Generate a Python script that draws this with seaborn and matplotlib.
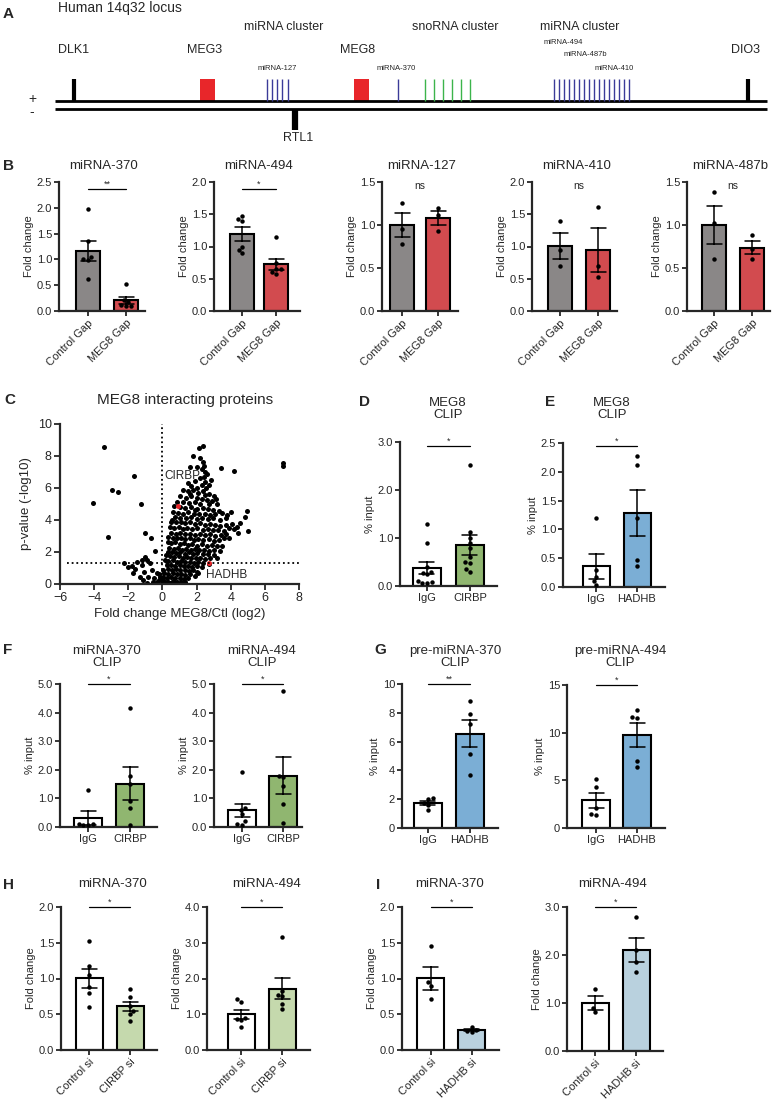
import numpy as np
import pandas as pd
import matplotlib
matplotlib.use("Agg")
import matplotlib.pyplot as plt
import seaborn as sns

W, H = 780, 1109

# Panel A - locus schematic, x positions of the features
dlk1_dio3_x = [74, 748]
meg_boxes_x = [207, 361]
mir127_x = [267, 272, 277, 282, 288]
mir370_x = [398]
snorna_x = [425, 434, 443, 452, 461, 470]
mir_cluster2_x = [554, 559, 564, 569, 574, 579, 584, 589, 594, 599, 604, 609, 614, 619, 624, 629]
rtl1_x = [295]

# Panel B - miRNA levels after MEG8 gapmer
b_groups = ["Control Gap", "MEG8 Gap"]
mir370_ctrl = [1.97, 1.35, 1.05, 0.99, 1.00, 0.62]
mir370_meg8 = [0.52, 0.22, 0.12, 0.10, 0.10, 0.18]
mir494_ctrl = [1.47, 1.42, 1.40, 1.00, 0.95, 0.90]
mir494_meg8 = [1.14, 0.75, 0.65, 0.60, 0.57, 0.65]
mir127_ctrl = [1.26, 0.95, 0.78]
mir127_meg8 = [1.20, 1.12, 0.93]
mir410_ctrl = [1.39, 0.94, 0.69]
mir410_meg8 = [1.61, 0.70, 0.52]
mir487b_ctrl = [1.38, 1.02, 0.60]
mir487b_meg8 = [0.88, 0.72, 0.61]

# Panel C - volcano plot (log2 fold change, -log10 p)
volcano_fc = [
    1.78, 2.17, 2.40, 2.20, 1.62, 2.35, 2.45, 2.30, 2.50, 2.00,
    2.60, 2.45, 2.20, 1.90, 2.50, 2.70, 2.30, 1.70, 2.00, 2.55, 1.50, 2.85,
    1.20, 1.50, 1.80, 2.10, 2.40, 2.70, 3.00, 1.00, 1.40, 1.70, 2.00, 2.30,
    2.60, 2.90, 3.15, 0.85, 1.20, 1.55, 1.90, 2.20, 2.75, 3.20, 1.60, 2.50,
    0.70, 1.05, 1.35, 1.70, 2.00, 2.35, 2.65, 2.95, 3.30, 0.60, 0.90,
    1.20, 1.50, 1.85, 2.15, 2.50, 2.80, 3.10, 3.50, 0.75, 1.05, 1.40,
    1.70, 2.00, 2.30, 2.65, 2.95, 3.35, 3.70, 4.00, 0.55, 1.90, 3.80,
    0.50, 0.80, 1.10, 1.35, 1.60, 1.90, 2.20, 2.50, 2.80, 3.10,
    3.40, 3.75, 4.05, 0.45, 0.70, 0.95, 1.20, 1.45, 1.75, 2.05,
    2.35, 2.65, 2.95, 3.25, 3.60, 3.90, 0.50, 0.80, 1.05, 1.30,
    1.60, 1.90, 2.20, 2.50, 2.80, 3.10, 3.45, 3.75, 4.40, 4.20,
    0.35, 0.60, 0.85, 1.10, 1.35, 1.60, 1.85, 2.10, 2.40, 2.70,
    3.00, 3.30, 3.60, 3.90, 0.30, 0.50, 0.75, 1.00, 1.25, 1.50,
    1.75, 2.00, 2.30, 2.60, 2.90, 3.20, 3.50, 0.40, 0.65, 0.90,
    1.15, 1.40, 1.65, 1.90, 2.15, 2.45, 2.75, 3.05, 3.35, 0.30,
    0.55, 0.80, 1.05, 1.30, 1.55, 1.80, 2.05, 2.35, 2.65, 3.00,
    0.20, 0.45, 0.70, 0.95, 1.20, 1.45, 1.70, 1.95, 2.20, 2.50, 2.80, 3.20,
    0.15, 0.35, 0.60, 0.85, 1.10, 1.35, 1.60, 1.85, 2.10, 2.40, 2.75,
    0.25, 0.50, 0.75, 1.00, 1.25, 1.50, 1.75, 2.00, 2.30, 2.10,
    -1.80, -1.60, -1.50, -1.20, -1.00, -0.92, -1.10, -0.72, -0.62, -1.31, -1.70,
    -2.00, -2.24, -0.33, -0.49, -0.23, -0.82, -0.53, -0.14, -1.11, -0.92, -1.20,
    0.05, 0.30, 0.55, 0.80, 1.05, 1.30, 1.55, 1.80, 2.05, 0.10, 0.35, 0.60,
    0.85, 1.10, 1.35, 1.60, 1.90, 0.05, 0.25, 0.50, 0.75, 1.00, 1.25, 1.50,
    0.10, 0.35, 0.60, 0.85, 1.10, 0.00, 0.20, 0.45, -0.10, -0.30, -0.20, 0.70, 1.30,
    -3.40, -4.08, -3.16, -2.97, -2.58, -1.66, -1.27, -1.01, -0.68, -0.43,
    7.04, 7.04, 3.41, 4.21, 4.94, 4.84, 5.03, 4.35, 4.55,
]
volcano_logp = [
    8.02, 8.50, 8.60, 7.87, 7.29, 7.60, 7.40, 7.20, 7.00, 7.30,
    6.90, 6.70, 6.60, 6.45, 6.40, 6.20, 6.20, 6.10, 6.00, 6.00, 6.30, 6.50,
    5.90, 5.80, 5.85, 5.70, 5.80, 5.60, 5.50, 5.50, 5.40, 5.50, 5.40, 5.30,
    5.25, 5.20, 5.30, 5.10, 5.10, 5.05, 5.10, 5.00, 5.00, 5.00, 5.60, 5.55,
    4.90, 4.80, 4.75, 4.80, 4.70, 4.75, 4.70, 4.60, 4.55, 4.50, 4.45,
    4.40, 4.50, 4.40, 4.35, 4.40, 4.30, 4.35, 4.45, 4.20, 4.15, 4.10,
    4.20, 4.05, 4.10, 4.05, 4.10, 4.00, 4.10, 4.50, 4.00, 4.60, 4.30,
    3.90, 3.85, 3.90, 3.80, 3.85, 3.75, 3.80, 3.70, 3.75, 3.70,
    3.65, 3.70, 3.75, 3.55, 3.50, 3.55, 3.45, 3.50, 3.45, 3.50,
    3.40, 3.45, 3.35, 3.40, 3.30, 3.50, 3.20, 3.15, 3.20, 3.10,
    3.15, 3.05, 3.15, 3.05, 3.10, 3.00, 3.05, 3.15, 3.20, 3.45,
    2.95, 2.90, 2.85, 2.90, 2.80, 2.85, 2.75, 2.80, 2.75, 2.80,
    2.70, 2.75, 2.85, 2.90, 2.60, 2.55, 2.60, 2.50, 2.55, 2.45,
    2.50, 2.40, 2.50, 2.40, 2.45, 2.35, 2.40, 2.25, 2.20, 2.25,
    2.15, 2.20, 2.10, 2.20, 2.10, 2.15, 2.05, 2.10, 2.05, 2.00,
    2.00, 1.95, 2.00, 1.90, 2.00, 1.90, 1.95, 1.85, 1.90, 1.80,
    1.80, 1.75, 1.70, 1.75, 1.65, 1.70, 1.60, 1.65, 1.60, 1.55, 1.60, 1.65,
    1.50, 1.45, 1.50, 1.40, 1.45, 1.35, 1.40, 1.30, 1.35, 1.30, 1.25,
    1.20, 1.20, 1.15, 1.20, 1.10, 1.15, 1.05, 1.10, 1.05, 0.70,
    1.13, 0.92, 1.40, 1.19, 1.71, 1.50, 0.77, 1.29, 0.88, 0.46, 0.67,
    1.08, 1.29, 0.67, 0.35, 0.25, 0.46, 0.15, 0.46, 0.25, 0.04, 1.50,
    0.90, 0.95, 0.90, 0.95, 0.85, 0.90, 0.80, 0.85, 0.75, 0.70, 0.65, 0.70,
    0.60, 0.65, 0.55, 0.60, 0.50, 0.45, 0.40, 0.45, 0.35, 0.40, 0.30, 0.35,
    0.20, 0.15, 0.20, 0.10, 0.15, 0.05, 0.05, 0.05, 0.30, 0.10, 0.60, 0.05, 0.10,
    8.56, 5.09, 2.92, 5.87, 5.76, 6.76, 5.01, 3.17, 2.90, 2.09,
    7.56, 7.35, 7.27, 7.08, 4.59, 4.18, 3.32, 3.59, 3.80,
]
hit_names = ["CIRBP", "HADHB"]
hit_fc = [0.94, 2.75]
hit_logp = [4.89, 1.29]

# Panel D/E - MEG8 CLIP
d_groups = ["IgG", "CIRBP"]
d_igg = [1.29, 0.90, 0.40, 0.28, 0.24, 0.10, 0.08, 0.06, 0.06, 0.30]
d_cirbp = [2.52, 1.12, 1.00, 0.90, 0.80, 0.50, 0.60, 0.48, 0.35, 0.30]
e_groups = ["IgG", "HADHB"]
e_igg = [1.20, 0.30, 0.17, 0.10, 0.03]
e_hadhb = [2.28, 2.12, 1.20, 0.47, 0.37]

# Panel F - miRNA CLIP with CIRBP
f370_igg = [1.28, 0.10, 0.10, 0.06, 0.06]
f370_cirbp = [4.15, 1.80, 1.50, 0.90, 0.65, 0.08]
f494_igg = [1.93, 0.68, 0.60, 0.45, 0.20, 0.08, 0.10]
f494_cirbp = [4.75, 1.80, 1.75, 1.45, 0.80, 0.15]

# Panel G - pre-miRNA CLIP with HADHB
g370_igg = [2.05, 2.00, 1.75, 1.60, 1.25]
g370_hadhb = [8.85, 7.90, 7.20, 5.15, 3.65]
g494_igg = [5.10, 4.30, 2.15, 1.50, 1.40]
g494_hadhb = [12.40, 11.60, 11.50, 6.98, 6.45]

# Panel H/I - knockdown
h_groups = ["Control si", "CIRBP si"]
h370_ctrl = [1.52, 1.18, 1.05, 0.88, 0.80, 0.60]
h370_si = [0.85, 0.74, 0.62, 0.55, 0.50, 0.40]
h494_ctrl = [1.42, 1.35, 0.90, 0.87, 0.83, 0.65]
h494_si = [3.15, 1.65, 1.55, 1.50, 1.30, 1.15]
i_groups = ["Control si", "HADHB si"]
i370_ctrl = [1.45, 0.95, 0.90, 0.71]
i370_si = [0.32, 0.28, 0.26, 0.25]
i494_ctrl = [1.29, 0.90, 0.82]
i494_si = [2.80, 2.10, 1.85, 1.65]

GRAY, RED = "#8b8786", "#e8353a"
GREEN, LGREEN = "#8fc264", "#c6e0a6"
BLUE, LBLUE = "#6cb0e4", "#b3d3e4"


def px_axes(fig, left, top, right, bottom):
    return fig.add_axes([left / W, 1 - bottom / H, (right - left) / W, (bottom - top) / H])


def ftext(fig, x, y, s, **kw):
    kw.setdefault("ha", "center")
    kw.setdefault("va", "center")
    fig.text(x / W, 1 - y / H, s, **kw)


def bar_panel(fig, geom, groups, a, b, colors, yticks, fmt, sig, sig_y,
              ylabel, rotate, bar_px=27):
    spine, b1, b2, end, top, bottom = geom
    ppu = b2 - b1
    ax = px_axes(fig, spine, top, end, bottom)
    df = pd.DataFrame({"group": [groups[0]] * len(a) + [groups[1]] * len(b),
                       "value": list(a) + list(b)})
    sns.barplot(data=df, x="group", y="value", hue="group", order=groups,
                hue_order=groups, palette=dict(zip(groups, colors)), legend=False,
                errorbar="se", capsize=15 / ppu, width=bar_px / ppu,
                edgecolor="black", linewidth=1.5,
                err_kws={"color": "black", "linewidth": 1.1}, ax=ax)
    sns.swarmplot(data=df, x="group", y="value", order=groups, color="black",
                  size=3.2, ax=ax)
    ax.set_xlim(-(b1 - spine) / ppu, 1 + (end - b2) / ppu)
    ax.set_ylim(0, yticks[-1])
    ax.set_yticks(yticks)
    ax.set_yticklabels([fmt.format(t) for t in yticks])
    ax.set_xlabel("")
    ax.set_ylabel(ylabel, fontsize=8, labelpad=2)
    ax.set_xticks([0, 1])
    if rotate:
        ax.set_xticklabels(groups, rotation=45, ha="right", rotation_mode="anchor",
                           fontsize=7.5)
    else:
        ax.set_xticklabels(groups, fontsize=8.5)
    sns.despine(ax=ax)
    for s in ["left", "bottom"]:
        ax.spines[s].set_linewidth(1.6)
    ax.tick_params(direction="out", length=3.5, width=1.3, labelsize=8, pad=1.5)
    if sig == "ns":
        ax.text(0.5, sig_y, "ns", ha="center", va="center", fontsize=7.5)
    else:
        ax.plot([0, 1], [sig_y, sig_y], color="black", lw=0.9, clip_on=False)
        ax.text(0.5, sig_y, sig, ha="center", va="bottom", fontsize=6.5)
    return ax


sns.set_style("ticks")
plt.rcParams["font.family"] = ["Liberation Sans", "DejaVu Sans"]
fig = plt.figure(figsize=(W / 100, H / 100), dpi=100)

# ---------------- Panel A ----------------
axA = px_axes(fig, 0, 0, 780, 155)
axA.set_xlim(0, 780)
axA.set_ylim(155, 0)
axA.axis("off")
axA.hlines([101, 108.5], 55, 767, color="black", lw=2)
axA.vlines(dlk1_dio3_x, 79, 101, color="black", lw=3)
axA.bar(meg_boxes_x, 22, bottom=79, width=15, color="#e8262a", lw=0)
axA.vlines(mir127_x + mir370_x + mir_cluster2_x, 79, 101, color="#3b3b98", lw=1)
axA.vlines(snorna_x, 79, 101, color="#3cb44b", lw=1)
axA.vlines(rtl1_x, 108.5, 130, color="black", lw=4.5)

ftext(fig, 8, 14, "A", fontsize=11, fontweight="bold")
ftext(fig, 58, 8, "Human 14q32 locus", fontsize=10, ha="left")
for x, s in [(284, "miRNA cluster"), (455, "snoRNA cluster"), (580, "miRNA cluster")]:
    ftext(fig, x, 27, s, fontsize=9)
for x, s in [(74, "DLK1"), (205, "MEG3"), (358, "MEG8"), (746, "DIO3")]:
    ftext(fig, x, 50, s, fontsize=9)
for x, y, s in [(277, 68, "miRNA-127"), (396, 69, "miRNA-370"), (563, 43, "miRNA-494"),
                (585, 54, "miRNA-487b"), (614, 68, "miRNA-410")]:
    ftext(fig, x, y, s, fontsize=5.5)
ftext(fig, 298, 138, "RTL1", fontsize=9)
ftext(fig, 32, 99, "+", fontsize=10)
ftext(fig, 32, 112, "-", fontsize=10)

# ---------------- Panel B ----------------
ftext(fig, 8, 166, "B", fontsize=11, fontweight="bold")
b_sets = [
    ("miRNA-370", mir370_ctrl, mir370_meg8, (59, 88, 126, 145, 182, 311), [0, 0.5, 1.0, 1.5, 2.0, 2.5], "**", 2.37),
    ("miRNA-494", mir494_ctrl, mir494_meg8, (214, 242, 276, 300, 182, 311), [0, 0.5, 1.0, 1.5, 2.0], "*", 1.89),
    ("miRNA-127", mir127_ctrl, mir127_meg8, (382, 402, 438, 458, 182, 311), [0, 0.5, 1.0, 1.5], "ns", 1.45),
    ("miRNA-410", mir410_ctrl, mir410_meg8, (532, 560, 598, 617, 182, 311), [0, 0.5, 1.0, 1.5, 2.0], "ns", 1.94),
    ("miRNA-487b", mir487b_ctrl, mir487b_meg8, (687, 714, 752, 770, 182, 311), [0, 0.5, 1.0, 1.5], "ns", 1.45),
]
for title, a, b, geom, yt, sig, sy in b_sets:
    bar_panel(fig, geom, b_groups, a, b, [GRAY, RED], yt, "{:.1f}", sig, sy,
              "Fold change", True, bar_px=24)
    ftext(fig, (geom[0] + geom[3]) / 2 + 2, 166, title, fontsize=9.5)

# ---------------- Panel C ----------------
ftext(fig, 10, 400, "C", fontsize=11, fontweight="bold")
ftext(fig, 185, 400, "MEG8 interacting proteins", fontsize=11)
axC = px_axes(fig, 60, 424, 299, 584)
sns.scatterplot(x=volcano_fc, y=volcano_logp, color="black", s=13, linewidth=0, ax=axC)
sns.scatterplot(x=hit_fc, y=hit_logp, color="#e8262a", s=13, linewidth=0, ax=axC)
axC.axhline(1.3, xmin=0.03, color="black", lw=1.3, ls=(0, (1, 1.6)))
axC.axvline(0, color="black", lw=1.3, ls=(0, (1, 1.6)))
axC.text(0.12, 6.75, hit_names[0], fontsize=8.5, ha="left", va="center")
axC.text(2.55, 0.55, hit_names[1], fontsize=8.5, ha="left", va="center")
axC.set_xlim(-6, 8)
axC.set_ylim(0, 10)
axC.set_xticks(range(-6, 9, 2))
axC.set_yticks(range(0, 11, 2))
axC.set_xlabel("Fold change MEG8/Ctl (log2)", fontsize=9.5, labelpad=3)
axC.set_ylabel("p-value (-log10)", fontsize=9.5)
sns.despine(ax=axC)
for s in ["left", "bottom"]:
    axC.spines[s].set_linewidth(1.6)
axC.tick_params(direction="out", length=4, width=1.3, labelsize=9, pad=2)

# ---------------- Panel D / E ----------------
ftext(fig, 365, 402, "D", fontsize=11, fontweight="bold")
ftext(fig, 448, 409, "MEG8\nCLIP", fontsize=9.5, linespacing=1.0)
bar_panel(fig, (400, 427, 470, 497, 442, 586), d_groups, d_igg, d_cirbp,
          ["white", GREEN], [0, 1.0, 2.0, 3.0], "{:.1f}", "*", 2.92, "% input", False, 28)
ftext(fig, 550, 402, "E", fontsize=11, fontweight="bold")
ftext(fig, 612, 409, "MEG8\nCLIP", fontsize=9.5, linespacing=1.0)
bar_panel(fig, (563, 596, 637, 665, 443, 587), e_groups, e_igg, e_hadhb,
          ["white", BLUE], [0, 0.5, 1.0, 1.5, 2.0, 2.5], "{:.1f}", "*", 2.45, "% input", False, 27)

# ---------------- Panel F / G ----------------
ftext(fig, 8, 650, "F", fontsize=11, fontweight="bold")
ftext(fig, 107, 657, "miRNA-370\nCLIP", fontsize=9.5, linespacing=1.0)
bar_panel(fig, (60, 88, 130, 157, 684, 827), d_groups, f370_igg, f370_cirbp,
          ["white", GREEN], [0, 1.0, 2.0, 3.0, 4.0, 5.0], "{:.1f}", "*", 5.0, "% input", False, 28)
ftext(fig, 262, 657, "miRNA-494\nCLIP", fontsize=9.5, linespacing=1.0)
bar_panel(fig, (214, 242, 283, 302, 684, 827), d_groups, f494_igg, f494_cirbp,
          ["white", GREEN], [0, 1.0, 2.0, 3.0, 4.0, 5.0], "{:.1f}", "*", 5.0, "% input", False, 28)
ftext(fig, 380, 650, "G", fontsize=11, fontweight="bold")
ftext(fig, 455, 657, "pre-miRNA-370\nCLIP", fontsize=9.5, linespacing=1.0)
bar_panel(fig, (402, 428, 470, 498, 684, 828), e_groups, g370_igg, g370_hadhb,
          ["white", BLUE], [0, 2, 4, 6, 8, 10], "{:.0f}", "**", 10.0, "% input", False, 28)
ftext(fig, 620, 657, "pre-miRNA-494\nCLIP", fontsize=9.5, linespacing=1.0)
bar_panel(fig, (567, 596, 637, 665, 685, 828), e_groups, g494_igg, g494_hadhb,
          ["white", BLUE], [0, 5, 10, 15], "{:.0f}", "*", 15.0, "% input", False, 28)

# ---------------- Panel H / I ----------------
ftext(fig, 8, 885, "H", fontsize=11, fontweight="bold")
ftext(fig, 113, 884, "miRNA-370", fontsize=9.5)
bar_panel(fig, (61, 89, 130, 157, 907, 1050), h_groups, h370_ctrl, h370_si,
          ["white", LGREEN], [0, 0.5, 1.0, 1.5, 2.0], "{:.1f}", "*", 2.0, "Fold change", True, 27)
ftext(fig, 267, 884, "miRNA-494", fontsize=9.5)
bar_panel(fig, (207, 241, 282, 310, 907, 1050), h_groups, h494_ctrl, h494_si,
          ["white", LGREEN], [0, 1.0, 2.0, 3.0, 4.0], "{:.1f}", "*", 4.0, "Fold change", True, 27)
ftext(fig, 378, 885, "I", fontsize=11, fontweight="bold")
ftext(fig, 450, 884, "miRNA-370", fontsize=9.5)
bar_panel(fig, (402, 431, 472, 499, 907, 1050), i_groups, i370_ctrl, i370_si,
          ["white", LBLUE], [0, 0.5, 1.0, 1.5, 2.0], "{:.1f}", "*", 2.0, "Fold change", True, 27)
ftext(fig, 613, 884, "miRNA-494", fontsize=9.5)
bar_panel(fig, (567, 595, 636, 663, 907, 1051), i_groups, i494_ctrl, i494_si,
          ["white", LBLUE], [0, 1.0, 2.0, 3.0], "{:.1f}", "*", 3.0, "Fold change", True, 27)

fig.savefig("out.png", dpi=100)
